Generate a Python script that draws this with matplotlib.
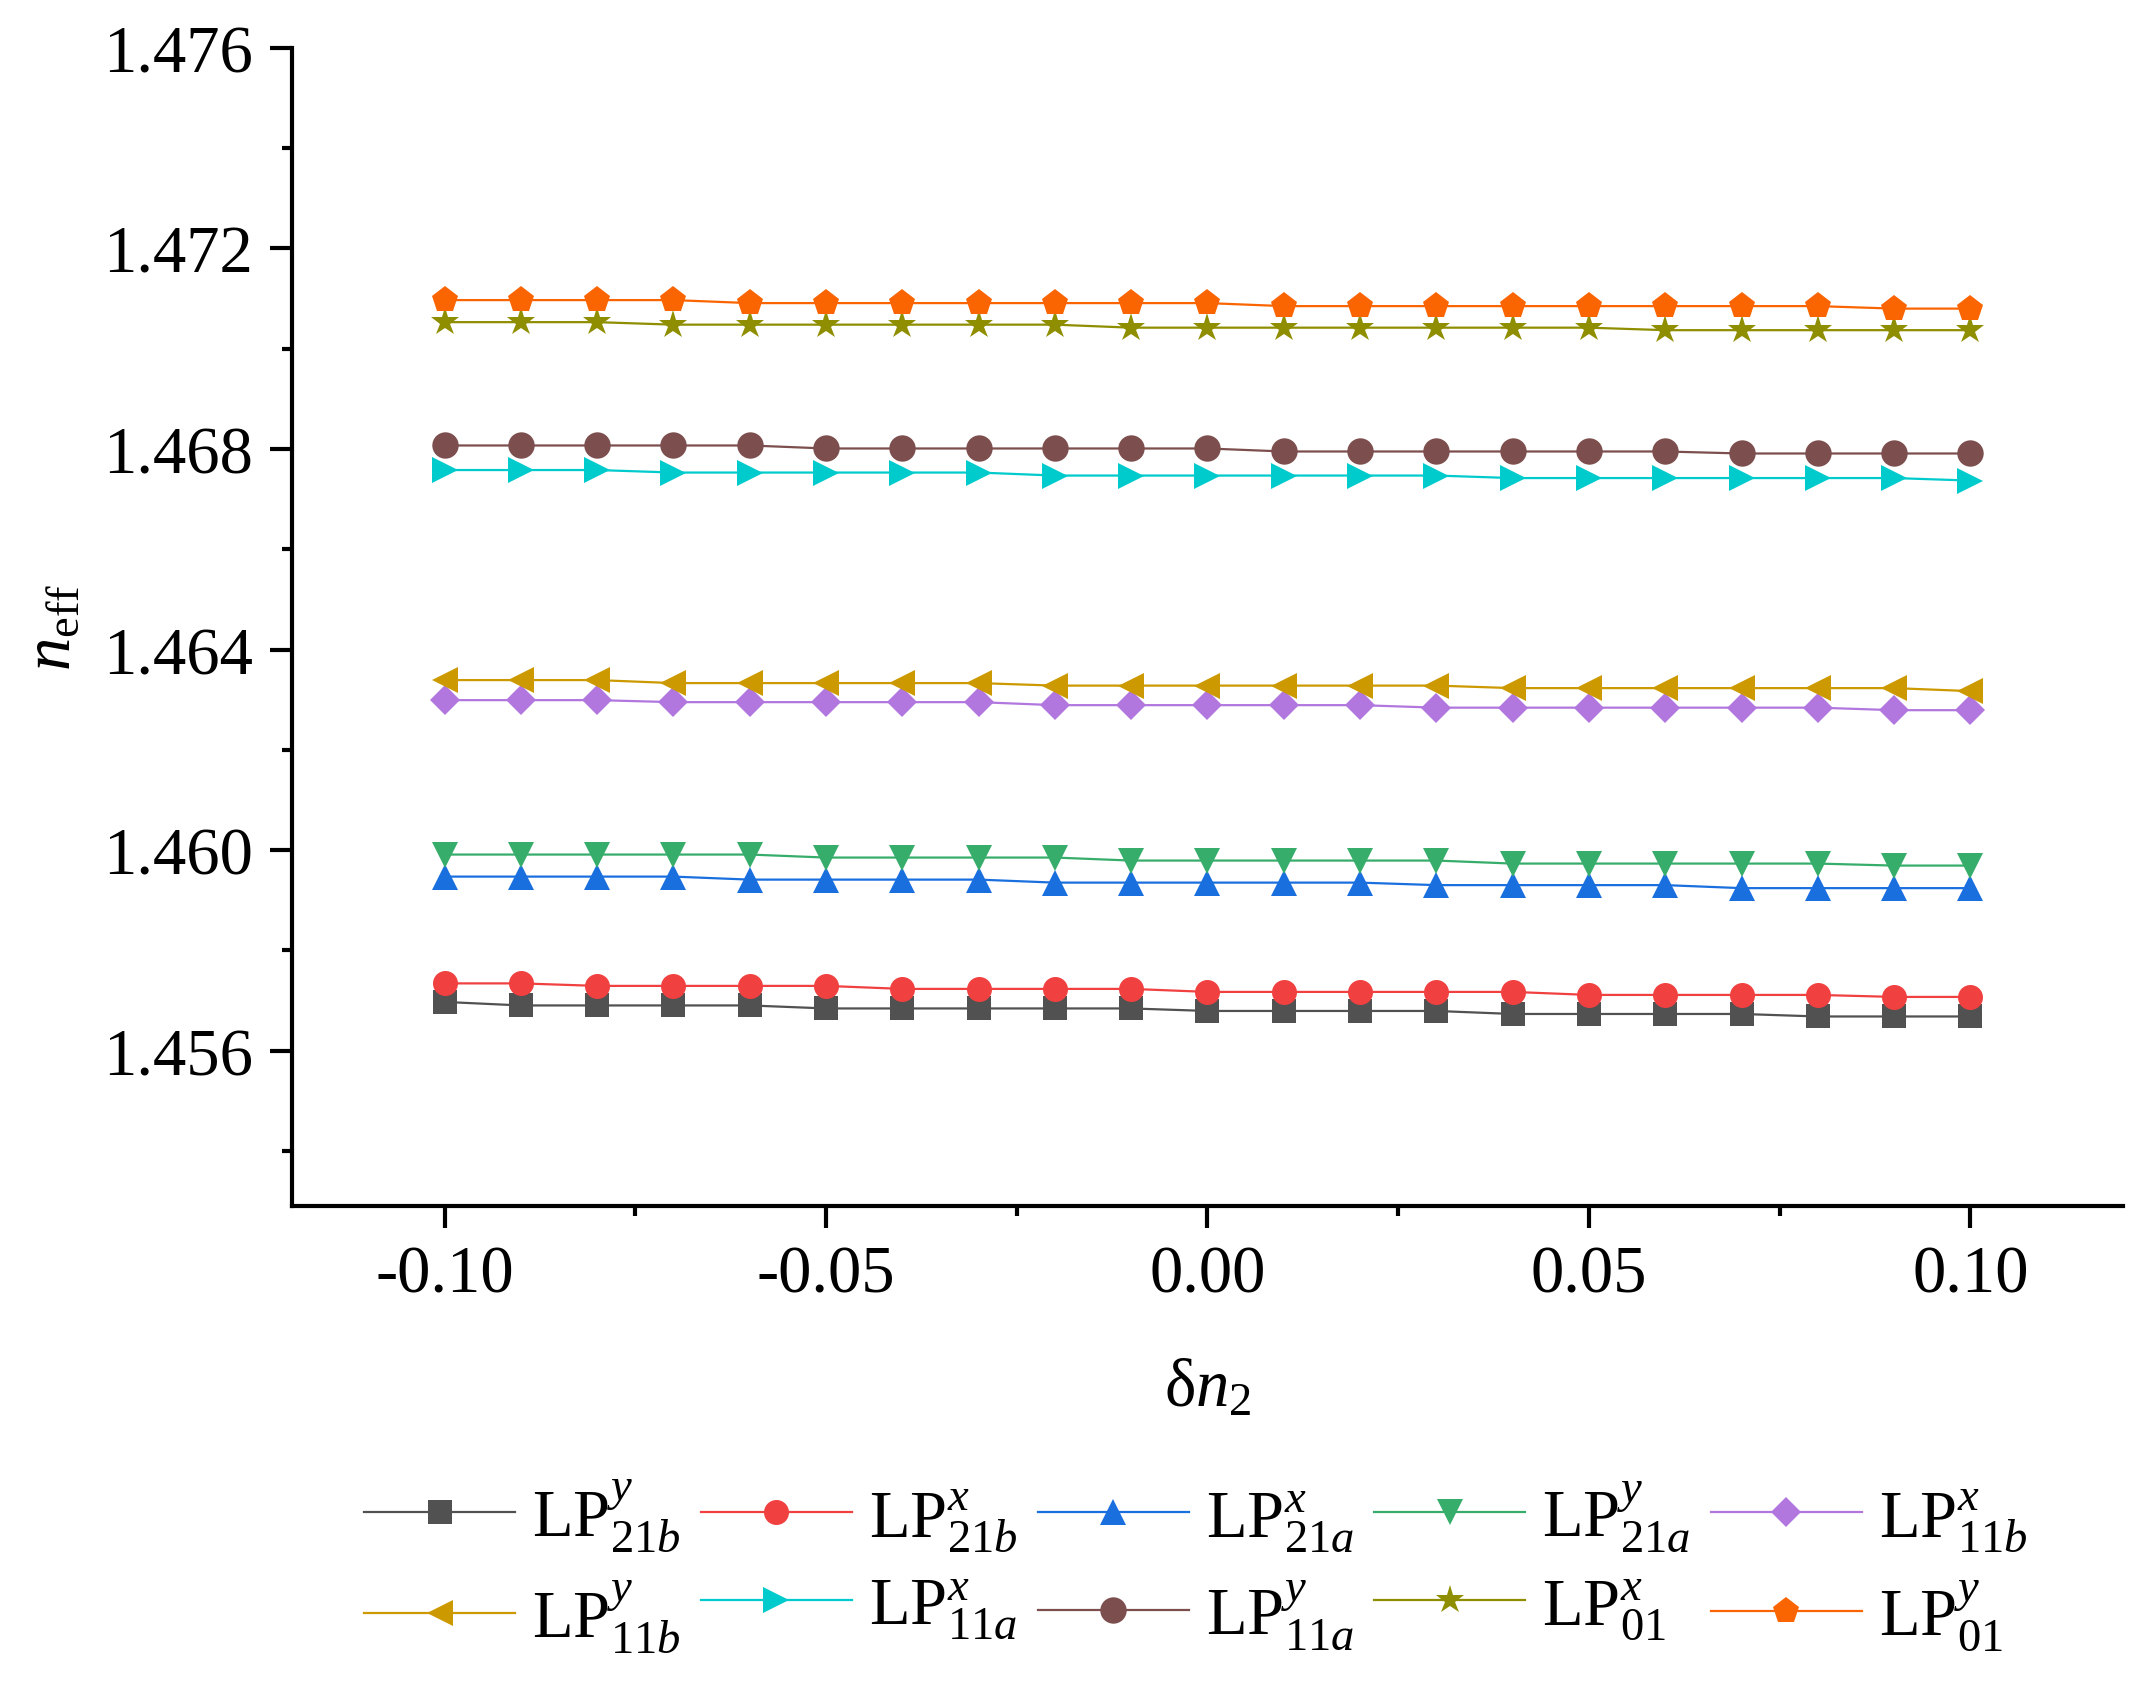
import matplotlib
matplotlib.use("Agg")
import matplotlib.pyplot as plt

plt.rcParams["font.family"] = "serif"
plt.rcParams["font.serif"] = ["Liberation Serif"]
plt.rcParams["mathtext.fontset"] = "custom"
plt.rcParams["mathtext.rm"] = "Liberation Serif"
plt.rcParams["mathtext.it"] = "Liberation Serif:italic"
plt.rcParams["mathtext.bf"] = "Liberation Serif:bold"
plt.rcParams["axes.unicode_minus"] = False

# delta n2
dn2 = [-0.10, -0.09, -0.08, -0.07, -0.06, -0.05, -0.04, -0.03, -0.02, -0.01, 0.00,
       0.01, 0.02, 0.03, 0.04, 0.05, 0.06, 0.07, 0.08, 0.09, 0.10]

lp21b_y = [1.45697, 1.45690, 1.45690, 1.45690, 1.45690, 1.45684, 1.45684, 1.45684, 1.45684, 1.45684, 1.45679,
           1.45679, 1.45679, 1.45679, 1.45673, 1.45673, 1.45673, 1.45673, 1.45668, 1.45668, 1.45668]
lp21b_x = [1.45734, 1.45734, 1.45729, 1.45729, 1.45729, 1.45729, 1.45723, 1.45723, 1.45723, 1.45723, 1.45717,
           1.45717, 1.45717, 1.45717, 1.45717, 1.45711, 1.45711, 1.45711, 1.45711, 1.45707, 1.45707]
lp21a_x = [1.45947, 1.45947, 1.45947, 1.45947, 1.45941, 1.45941, 1.45941, 1.45941, 1.45935, 1.45935, 1.45935,
           1.45935, 1.45935, 1.45930, 1.45930, 1.45930, 1.45930, 1.45924, 1.45924, 1.45924, 1.45924]
lp21a_y = [1.45991, 1.45991, 1.45991, 1.45991, 1.45991, 1.45985, 1.45985, 1.45985, 1.45985, 1.45979, 1.45979,
           1.45979, 1.45979, 1.45979, 1.45973, 1.45973, 1.45973, 1.45973, 1.45973, 1.45969, 1.45969]
lp11b_x = [1.46299, 1.46299, 1.46299, 1.46295, 1.46295, 1.46295, 1.46295, 1.46295, 1.46289, 1.46289, 1.46289,
           1.46289, 1.46289, 1.46284, 1.46284, 1.46284, 1.46284, 1.46284, 1.46284, 1.46279, 1.46279]
lp11b_y = [1.46339, 1.46339, 1.46339, 1.46333, 1.46333, 1.46333, 1.46333, 1.46333, 1.46328, 1.46328, 1.46328,
           1.46328, 1.46328, 1.46328, 1.46323, 1.46323, 1.46323, 1.46323, 1.46323, 1.46323, 1.46317]
lp11a_x = [1.46758, 1.46758, 1.46758, 1.46753, 1.46753, 1.46753, 1.46753, 1.46753, 1.46747, 1.46747, 1.46747,
           1.46747, 1.46747, 1.46747, 1.46742, 1.46742, 1.46742, 1.46742, 1.46742, 1.46742, 1.46737]
lp11a_y = [1.46807, 1.46807, 1.46807, 1.46807, 1.46807, 1.46801, 1.46801, 1.46801, 1.46801, 1.46801, 1.46801,
           1.46795, 1.46795, 1.46795, 1.46795, 1.46795, 1.46795, 1.46791, 1.46791, 1.46791, 1.46791]
lp01_x = [1.47053, 1.47053, 1.47053, 1.47048, 1.47048, 1.47048, 1.47048, 1.47048, 1.47048, 1.47042, 1.47042,
          1.47042, 1.47042, 1.47042, 1.47042, 1.47042, 1.47037, 1.47037, 1.47037, 1.47037, 1.47037]
lp01_y = [1.47097, 1.47097, 1.47097, 1.47097, 1.47091, 1.47091, 1.47091, 1.47091, 1.47091, 1.47091, 1.47091,
          1.47085, 1.47085, 1.47085, 1.47085, 1.47085, 1.47085, 1.47085, 1.47085, 1.47080, 1.47080]

labels = [r"LP$^{y}_{21b}$", r"LP$^{x}_{21b}$", r"LP$^{x}_{21a}$", r"LP$^{y}_{21a}$", r"LP$^{x}_{11b}$",
          r"LP$^{y}_{11b}$", r"LP$^{x}_{11a}$", r"LP$^{y}_{11a}$", r"LP$^{x}_{01}$", r"LP$^{y}_{01}$"]
series = [lp21b_y, lp21b_x, lp21a_x, lp21a_y, lp11b_x, lp11b_y, lp11a_x, lp11a_y, lp01_x, lp01_y]
colors = ["#515151", "#F14040", "#1A6FDF", "#37AD6B", "#B177DE",
          "#CC9900", "#00CBCC", "#7D4E4E", "#8E8E00", "#FB6501"]
markers = ["s", "o", "^", "v", "D", "<", ">", "o", "*", "p"]
sizes = [17, 18, 19, 19, 15, 19, 19, 19, 21, 20]

fig = plt.figure(figsize=(21.39, 16.99), dpi=100)
ax = fig.add_axes([0.1365, 0.2896, 0.856, 0.6816])

handles = []
for vals, lab, c, m, s in zip(series, labels, colors, markers, sizes):
    h, = ax.plot(dn2, vals, color=c, marker=m, markersize=s, markeredgewidth=0,
                 linewidth=1.6, label=lab)
    handles.append(h)

ax.set_xlim(-0.12, 0.12)
ax.set_ylim(1.4529, 1.476)
ax.set_xticks([-0.10, -0.05, 0.00, 0.05, 0.10])
ax.set_xticklabels(["-0.10", "-0.05", "0.00", "0.05", "0.10"])
ax.set_xticks([-0.075, -0.025, 0.025, 0.075], minor=True)
ax.set_yticks([1.456, 1.460, 1.464, 1.468, 1.472, 1.476])
ax.set_yticklabels(["1.456", "1.460", "1.464", "1.468", "1.472", "1.476"])
ax.set_yticks([1.454, 1.458, 1.462, 1.466, 1.470, 1.474], minor=True)

for side in ["top", "right"]:
    ax.spines[side].set_visible(False)
for side in ["left", "bottom"]:
    ax.spines[side].set_linewidth(3)

ax.tick_params(which="major", direction="out", length=16, width=3, labelsize=48, pad=12)
ax.tick_params(which="minor", direction="out", length=7, width=3)

ax.set_xlabel(r"$\mathrm{\delta}n_2$", fontsize=48, labelpad=38)
ax.set_ylabel(r"$n_{\mathrm{eff}}$", fontsize=48, labelpad=14)

# legend is filled column-wise, reorder so rows match the reference
order = [0, 5, 1, 6, 2, 7, 3, 8, 4, 9]
leg = fig.legend([handles[i] for i in order], [labels[i] for i in order],
                 loc="center", bbox_to_anchor=(0.559, 0.0785), ncol=5, frameon=False,
                 fontsize=48, handlelength=2.27, handletextpad=0.25, columnspacing=0.3,
                 labelspacing=0.35, borderaxespad=0)

fig.savefig("out.png", dpi=100)
